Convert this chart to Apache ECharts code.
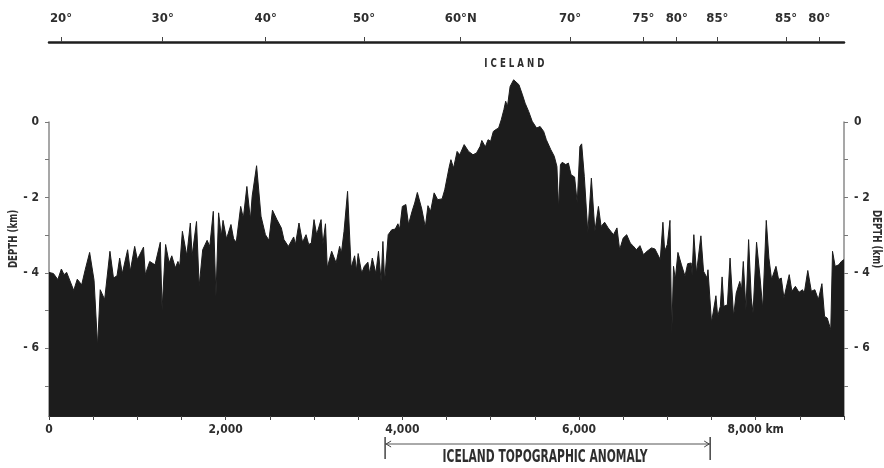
<!DOCTYPE html>
<html>
<head>
<meta charset="utf-8">
<script src="https://cdn.jsdelivr.net/npm/echarts@6/dist/echarts.min.js"></script>
<style>
html, body { margin: 0; padding: 0; background: #fff; }
#main { width: 884px; height: 468px; }
</style>
</head>
<body>
<div id="main"></div>
<script>
// profile: distance along track (km) and sea-floor depth (km, negative down)
var distKm = [
  0, 50, 100, 140, 170, 200, 280, 320, 370, 410, 460, 510, 550, 580, 630, 690, 730, 770, 800, 830,
  890, 920, 970, 1000, 1070, 1090, 1140, 1200, 1260, 1280, 1320, 1360, 1390, 1430, 1460, 1480, 1510, 1560, 1600, 1620,
  1670, 1700, 1740, 1790, 1820, 1860, 1890, 1920, 1950, 1970, 2010, 2060, 2090, 2120, 2170, 2200, 2240, 2280, 2300, 2350,
  2400, 2450, 2490, 2530, 2580, 2630, 2660, 2710, 2770, 2790, 2830, 2870, 2910, 2940, 2970, 3000, 3030, 3080, 3100, 3130,
  3150, 3200, 3250, 3290, 3310, 3340, 3380, 3420, 3460, 3480, 3500, 3540, 3570, 3610, 3630, 3660, 3700, 3730, 3760, 3780,
  3800, 3840, 3880, 3920, 3950, 3970, 4000, 4040, 4070, 4110, 4140, 4170, 4220, 4260, 4290, 4320, 4360, 4400, 4450, 4480,
  4530, 4550, 4580, 4620, 4650, 4700, 4750, 4800, 4840, 4880, 4900, 4940, 4970, 5000, 5030, 5060, 5090, 5120, 5150, 5170,
  5190, 5220, 5260, 5280, 5320, 5360, 5390, 5430, 5470, 5520, 5560, 5600, 5630, 5680, 5720, 5750, 5770, 5790, 5810, 5850,
  5880, 5910, 5950, 5980, 6010, 6030, 6060, 6100, 6140, 6180, 6220, 6250, 6290, 6330, 6390, 6430, 6460, 6500, 6540, 6580,
  6610, 6650, 6690, 6730, 6770, 6820, 6860, 6920, 6950, 6970, 7000, 7030, 7050, 7070, 7090, 7120, 7160, 7200, 7230, 7270,
  7280, 7300, 7330, 7380, 7410, 7450, 7460, 7500, 7550, 7570, 7600, 7620, 7640, 7680, 7710, 7750, 7780, 7820, 7840, 7860,
  7890, 7920, 7950, 7970, 8010, 8050, 8080, 8120, 8150, 8180, 8230, 8260, 8290, 8320, 8380, 8410, 8450, 8490, 8530, 8550,
  8590, 8630, 8670, 8710, 8750, 8780, 8810, 8850, 8870, 8900, 8940, 8970, 9000
];
var depthKm = [
  -3.99, -4.02, -4.18, -3.90, -4.05, -3.99, -4.47, -4.17, -4.32, -3.92, -3.46, -4.20, -5.95, -4.45, -4.71, -3.43, -4.14, -4.08, -3.61, -4.02,
  -3.39, -3.96, -3.30, -3.65, -3.32, -4.05, -3.70, -3.79, -3.19, -4.98, -3.25, -3.74, -3.55, -3.87, -3.70, -3.83, -2.90, -3.55, -2.68, -3.55,
  -2.64, -4.36, -3.39, -3.14, -3.30, -2.37, -4.63, -2.41, -3.03, -2.61, -3.10, -2.72, -3.10, -3.19, -2.24, -2.55, -1.71, -2.59, -1.97, -1.16,
  -2.50, -2.99, -3.14, -2.34, -2.59, -2.81, -3.12, -3.30, -3.05, -3.25, -2.68, -3.19, -2.99, -3.25, -3.21, -2.59, -2.99, -2.59, -3.25, -2.70,
  -3.87, -3.43, -3.74, -3.30, -3.48, -2.90, -1.84, -3.87, -3.55, -3.94, -3.49, -4.01, -3.83, -3.72, -4.02, -3.61, -4.02, -3.43, -4.23, -3.17,
  -4.23, -2.99, -2.86, -2.84, -2.70, -2.84, -2.24, -2.19, -2.72, -2.37, -2.15, -1.87, -2.31, -2.79, -2.22, -2.37, -1.88, -2.06, -2.04, -1.80,
  -1.20, -1.00, -1.22, -0.78, -0.87, -0.60, -0.78, -0.87, -0.82, -0.65, -0.49, -0.66, -0.47, -0.51, -0.25, -0.20, -0.16, 0.06, 0.33, 0.55,
  0.41, 0.94, 1.12, 1.14, 0.99, 0.72, 0.50, 0.28, 0.02, -0.16, -0.12, -0.25, -0.47, -0.73, -0.91, -1.18, -2.33, -1.13, -1.07, -1.13,
  -1.09, -1.40, -1.46, -2.15, -0.65, -0.58, -1.44, -2.94, -1.49, -2.90, -2.24, -2.77, -2.66, -2.81, -2.99, -2.81, -3.39, -3.08, -2.99, -3.21,
  -3.28, -3.39, -3.28, -3.52, -3.43, -3.34, -3.37, -3.65, -2.66, -3.43, -3.25, -2.61, -5.64, -3.83, -4.18, -3.46, -3.79, -4.09, -3.76, -3.74,
  -4.05, -2.99, -4.01, -3.02, -3.96, -4.14, -3.92, -5.32, -4.61, -5.16, -4.89, -4.11, -4.89, -4.85, -3.61, -5.16, -4.54, -4.23, -4.45, -3.70,
  -4.98, -3.12, -4.67, -5.07, -3.19, -4.14, -4.96, -2.61, -3.61, -4.18, -3.83, -4.18, -4.14, -4.67, -4.05, -4.49, -4.36, -4.52, -4.45, -4.54,
  -3.94, -4.49, -4.45, -4.71, -4.29, -5.16, -5.20, -5.51, -3.43, -3.83, -3.79, -3.70, -3.65
];

var depthLabels = [0, -2, -4, -6];
var depthTicks = [0, -1, -2, -3, -4, -5, -6, -7];
var distLabels = [0, 2000, 4000, 6000, 8000];
// latitude marks on the top scale, placed by distance along track
var latPos = [136, 1287, 2453, 3566, 4661, 5898, 6728, 7106, 7566, 8344, 8721];
var latLabels = ['20°', '30°', '40°', '50°', '60°N', '70°', '75°', '80°', '85°', '85°', '80°'];
var anomalyFrom = 3805, anomalyTo = 7485;
var peakKm = 5280;

var F = "'DejaVu Sans Condensed', 'Liberation Sans Narrow', sans-serif";
var TXT = '#2e2e2e';

var profile = distKm.map(function (d, i) { return [d, depthKm[i]]; });

function thousands(v) {
  return String(v).replace(/\B(?=(\d{3})+(?!\d))/g, ',');
}
function depthFmt(v) {
  return v === 0 ? '0' : '- ' + Math.abs(v);
}

var chart = echarts.init(document.getElementById('main'));

var yCommon = {
  type: 'value',
  min: -7.8,
  max: 0,
  splitLine: { show: false },
  axisLine: { show: true, onZero: false, lineStyle: { color: '#8a8a8a', width: 1.5 } },
  axisTick: { show: true, length: 4, customValues: depthTicks, lineStyle: { color: '#777' } },
  axisLabel: {
    customValues: depthLabels, formatter: depthFmt, margin: 10,
    color: TXT, fontFamily: F, fontSize: 12, fontWeight: 'bold'
  }
};

var option = {
  animation: false,
  backgroundColor: '#fff',
  grid: { left: 49, right: 40, top: 122, bottom: 52 },
  xAxis: [{
    type: 'value',
    min: 0,
    max: 9000,
    interval: 500,
    splitLine: { show: false },
    axisLine: { show: true, onZero: false, lineStyle: { color: '#222', width: 1 } },
    axisTick: { show: true, length: 4, lineStyle: { color: '#444' } },
    axisLabel: {
      customValues: distLabels,
      formatter: function (v) { return thousands(v) + (v === 8000 ? ' km' : ''); },
      margin: 8, color: TXT, fontFamily: F, fontSize: 12, fontWeight: 'bold'
    }
  }, {
    type: 'value',
    position: 'top',
    offset: 80,
    min: 0,
    max: 9000,
    splitLine: { show: false },
    axisLine: { show: true, onZero: false, lineStyle: { color: '#1e1e1e', width: 2.5 } },
    axisTick: { show: true, customValues: latPos, length: 5, lineStyle: { color: '#444' } },
    axisLabel: {
      customValues: latPos,
      formatter: function (v) {
        var best = 0;
        latPos.forEach(function (p, i) { if (Math.abs(p - v) < Math.abs(latPos[best] - v)) best = i; });
        return latLabels[best];
      },
      margin: 17, color: TXT, fontFamily: F, fontSize: 13, fontWeight: 'bold'
    }
  }],
  yAxis: [
    Object.assign({}, yCommon, { position: 'left' }),
    Object.assign({}, yCommon, { position: 'right' })
  ],
  series: [{
    type: 'line',
    data: profile,
    xAxisIndex: 0,
    yAxisIndex: 0,
    showSymbol: false,
    clip: false,
    lineStyle: { color: '#1c1c1c', width: 1 },
    areaStyle: { color: '#1c1c1c', opacity: 1, origin: 'start' },
    z: 1
  }]
};
chart.setOption(option);

// annotations placed from data coordinates
var xa = chart.convertToPixel({ gridIndex: 0 }, [anomalyFrom, 0])[0];
var xb = chart.convertToPixel({ gridIndex: 0 }, [anomalyTo, 0])[0];
var peak = chart.convertToPixel({ gridIndex: 0 }, [peakKm, 1.14]);
var ay = 444;

chart.setOption({
  graphic: [
    { type: 'text', x: peak[0] - 1, y: peak[1] - 15, scaleX: 0.8,
      style: { text: 'I C E L A N D', fill: TXT, font: 'bold 12px ' + F, align: 'center', verticalAlign: 'middle' } },
    { type: 'text', x: 14, y: 239, rotation: Math.PI / 2, scaleX: 0.8,
      style: { text: 'DEPTH (km)', fill: TXT, font: 'bold 12px ' + F, align: 'center', verticalAlign: 'middle' } },
    { type: 'text', x: 876, y: 239, rotation: -Math.PI / 2, scaleX: 0.8,
      style: { text: 'DEPTH (km)', fill: TXT, font: 'bold 12px ' + F, align: 'center', verticalAlign: 'middle' } },
    { type: 'line', shape: { x1: xa, y1: ay, x2: xb, y2: ay }, style: { stroke: '#555', lineWidth: 1 } },
    { type: 'line', shape: { x1: xa, y1: 437, x2: xa, y2: 459 }, style: { stroke: '#444', lineWidth: 1.5 } },
    { type: 'line', shape: { x1: xb, y1: 437, x2: xb, y2: 460 }, style: { stroke: '#444', lineWidth: 1.5 } },
    { type: 'polyline', shape: { points: [[xa + 6, ay - 3], [xa + 1, ay], [xa + 6, ay + 3]] }, style: { stroke: '#444', lineWidth: 1, fill: null } },
    { type: 'polyline', shape: { points: [[xb - 6, ay - 3], [xb - 1, ay], [xb - 6, ay + 3]] }, style: { stroke: '#444', lineWidth: 1, fill: null } },
    { type: 'text', x: 545, y: 458, scaleX: 0.7,
      style: { text: 'ICELAND TOPOGRAPHIC ANOMALY', fill: TXT, font: 'bold 17px ' + F, align: 'center', verticalAlign: 'middle' } }
  ]
});
</script>
</body>
</html>
